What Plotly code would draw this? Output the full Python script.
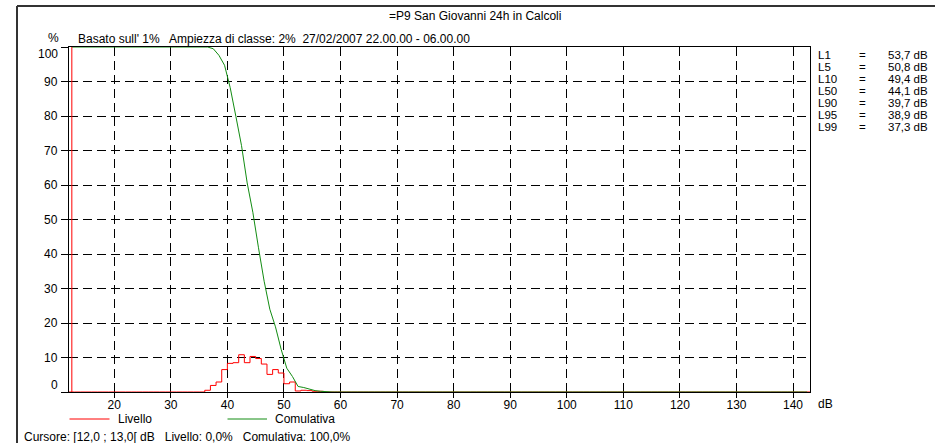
import plotly.graph_objects as go

# 1 dB level classes shown on the x axis
level_start = 12
level_end = 143
x_ticks = [20, 30, 40, 50, 60, 70, 80, 90, 100, 110, 120, 130, 140]
y_ticks = [0, 10, 20, 30, 40, 50, 60, 70, 80, 90, 100]

# Livello: % of time in each 1 dB class (classes outside this block are 0 %)
livello_first = 36
livello_pct = [0.5, 1.9, 2.9, 6.5, 8.3, 8.5, 10.8, 8.5, 10.3, 9.7, 8.1,
               5.1, 6.5, 5.5, 2.4, 2.9, 0.3, 0.5, 0.4, 0.2, 0.2]

# Comulativa: % of time the class level is exceeded (100 % below, 0 % above)
comulativa_first = 36
comulativa_pct = [100.0, 99.5, 97.6, 94.7, 88.2, 79.9, 71.4, 60.6, 52.1, 41.8, 32.1,
                  24.0, 18.9, 12.4, 6.9, 4.5, 1.6, 1.3, 0.8, 0.4, 0.2, 0.0]

# Percentile levels
stat_names = ["L1", "L5", "L10", "L50", "L90", "L95", "L99"]
stat_values = ["53,7 dB", "50,8 dB", "49,4 dB", "44,1 dB", "39,7 dB", "38,9 dB", "37,3 dB"]

cursor_class = (12.0, 13.0)

title_text = "=P9 San Giovanni 24h in Calcoli"
header_text = "Basato sull' 1%   Ampiezza di classe: 2%  27/02/2007 22.00.00 - 06.00.00"
cursor_text = "Cursore: [12,0 ; 13,0[ dB   Livello: 0,0%   Comulativa: 100,0%"

RED = "#ff0000"
GREEN = "#128c12"
FRAME = "#333333"
FONT = "Liberation Sans, Arial, sans-serif"
FS = 12

# Page geometry (pixels)
W, H = 935, 443
L, R, T, B = 69, 810, 47, 392


def px_x(px):
    return (px - L) / (R - L)


def px_y(py):
    return (B - py) / (B - T)


def label(text, x, y, xanchor="left", size=FS, **kw):
    return dict(text=text, xref="paper", yref="paper", x=px_x(x), y=px_y(y),
                xanchor=xanchor, yanchor="middle", showarrow=False,
                font=dict(size=size, color="black", family=FONT), **kw)


def hline(x0, x1, y, color, width=1):
    return dict(type="line", xref="paper", yref="paper",
                x0=px_x(x0), x1=px_x(x1), y0=px_y(y), y1=px_y(y),
                line=dict(color=color, width=width), layer="above")


def vline(x, y0, y1, color, width=1):
    return dict(type="line", xref="paper", yref="paper",
                x0=px_x(x), x1=px_x(x), y0=px_y(y0), y1=px_y(y1),
                line=dict(color=color, width=width), layer="above")


classes = list(range(level_start, level_end))

# Full class series
liv = []
for c in classes:
    i = c - livello_first
    liv.append(livello_pct[i] if 0 <= i < len(livello_pct) else 0.0)
com = []
for c in classes:
    i = c - comulativa_first
    if i < 0:
        com.append(comulativa_pct[0])
    elif i < len(comulativa_pct):
        com.append(comulativa_pct[i])
    else:
        com.append(comulativa_pct[-1])

fig = go.Figure()

# Livello as a step outline over class edges
fig.add_trace(go.Scatter(
    x=classes + [level_end], y=liv + [liv[-1]],
    mode="lines", line=dict(color=RED, width=1, shape="hv"),
    hoverinfo="skip", showlegend=False))

# Comulativa plotted at class centres
fig.add_trace(go.Scatter(
    x=[c + 0.5 for c in classes], y=com,
    mode="lines", line=dict(color=GREEN, width=1),
    hoverinfo="skip", showlegend=False))

# Cursor position
cx = (cursor_class[0] + cursor_class[1]) / 2
fig.add_trace(go.Scatter(
    x=[cx, cx], y=[y_ticks[0], y_ticks[-1]],
    mode="lines", line=dict(color=RED, width=1),
    hoverinfo="skip", showlegend=False))

annotations = []
shapes = []

# Outer frame around the whole report: top and left edges inside the page
shapes.append(hline(17, W + 2, 6, FRAME, 2))
shapes.append(vline(17, 6, H + 2, FRAME, 2))

# Title and header
annotations.append(label(title_text, 475, 15.5, xanchor="center"))
annotations.append(label("%", 53, 38, xanchor="center"))
annotations.append(label(header_text, 76, 38.5))

# Y tick labels (end labels pulled inside the frame)
for v in y_ticks:
    shift = 0
    if v == y_ticks[0]:
        shift = 7
    elif v == y_ticks[-1]:
        shift = -7
    annotations.append(dict(text=str(v), xref="paper", yref="y",
                            x=px_x(60), y=v, xanchor="right", yanchor="middle",
                            yshift=shift, showarrow=False,
                            font=dict(size=FS, color="black", family=FONT)))

# x unit
annotations.append(label("dB", 816, 404))

# Percentile table
row_y0, row_dy = 55, 12
for k, (n, v) in enumerate(zip(stat_names, stat_values)):
    yy = row_y0 + k * row_dy
    annotations.append(label(n, 816, yy, size=11.5))
    annotations.append(label("=", 863, yy, xanchor="center", size=11.5))
    annotations.append(label(v, 930, yy, xanchor="right", size=11.5))

# Legend
leg_y = 419
shapes.append(hline(69.5, 109.5, leg_y, RED))
annotations.append(label("Livello", 115.5, leg_y))
shapes.append(hline(227.5, 267, leg_y, GREEN))
annotations.append(label("Comulativa", 273, leg_y))

# Cursor readout
annotations.append(label(cursor_text, 22, 437))

fig.update_layout(
    width=W, height=H,
    margin=dict(l=L, r=W - R, t=T, b=H - B, pad=0),
    paper_bgcolor="white", plot_bgcolor="white",
    font=dict(family=FONT, size=FS, color="black"),
    annotations=annotations, shapes=shapes,
    showlegend=False,
)
fig.update_xaxes(
    range=[level_start, level_end], tickvals=x_ticks,
    showgrid=True, gridcolor="black", gridwidth=1, griddash="9px,5px",
    showline=True, linecolor="black", linewidth=1, mirror=True,
    ticks="outside", ticklen=5, tickcolor="black", ticklabelstandoff=-3,
    tickfont=dict(size=FS, color="black", family=FONT),
    zeroline=False, fixedrange=True,
)
fig.update_yaxes(
    range=[y_ticks[0], y_ticks[-1]], tickvals=y_ticks, showticklabels=False,
    showgrid=True, gridcolor="black", gridwidth=1, griddash="9px,5px",
    showline=True, linecolor="black", linewidth=1, mirror=True,
    ticks="outside", ticklen=7, tickcolor="black",
    zeroline=False, fixedrange=True,
)

fig.write_html("out.html", config={"displayModeBar": False})
